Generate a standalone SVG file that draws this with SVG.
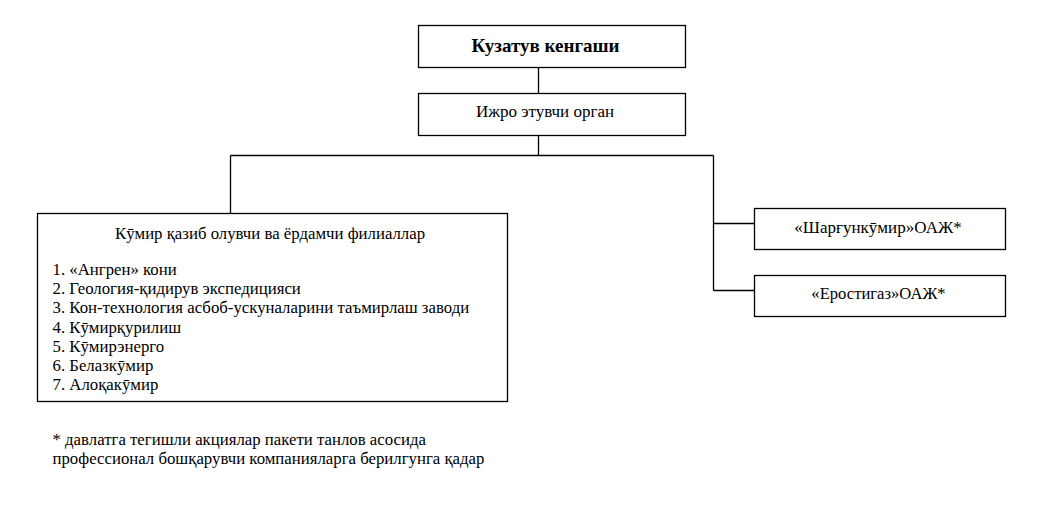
<svg xmlns="http://www.w3.org/2000/svg" width="1041" height="520" viewBox="0 0 1041 520">
<rect width="1041" height="520" fill="#fff"/>
<g id="connectors" fill="none" stroke="#000" stroke-width="1.3">
<path d="M538.5 67V93M538.5 135V155.5M230.5 155.5H713.5M230.5 155.5V213M713.5 155.5V290.5M713.5 223.5H754M713.5 290.5H754"/>
</g>
<g id="kuzatuv">
<rect fill="#fff" stroke="#000" stroke-width="1.3" x="418.5" y="25.5" width="267" height="42"/>
<text font-family="Liberation Serif" font-size="19" font-weight="bold" text-anchor="middle" x="545.5" y="51.5">Кузатув кенгаши</text>
</g>
<g id="ijro">
<rect fill="#fff" stroke="#000" stroke-width="1.3" x="418.5" y="93.5" width="267" height="42"/>
<text font-family="Liberation Serif" font-size="17" text-anchor="middle" x="545" y="116.5">Ижро этувчи орган</text>
</g>
<g id="filiallar">
<rect fill="#fff" stroke="#000" stroke-width="1.3" x="37.5" y="213.5" width="470" height="188"/>
<text font-family="Liberation Serif" font-size="16.8" text-anchor="middle" x="270" y="239">Кӯмир қазиб олувчи ва ёрдамчи филиаллар</text>
<text font-family="Liberation Serif" font-size="16.8" x="52.5" y="275">1. «Ангрен» кони</text>
<text font-family="Liberation Serif" font-size="16.8" x="52.5" y="294">2. Геология-қидирув экспедицияси</text>
<text font-family="Liberation Serif" font-size="16.8" x="52.5" y="313">3. Кон-технология асбоб-ускуналарини таъмирлаш заводи</text>
<text font-family="Liberation Serif" font-size="16.8" x="52.5" y="332.5">4. Кӯмирқурилиш</text>
<text font-family="Liberation Serif" font-size="16.8" x="52.5" y="352">5. Кӯмирэнерго</text>
<text font-family="Liberation Serif" font-size="16.8" x="52.5" y="371">6. Белазкӯмир</text>
<text font-family="Liberation Serif" font-size="16.8" x="52.5" y="390">7. Алоқакӯмир</text>
</g>
<g id="shargun">
<rect fill="#fff" stroke="#000" stroke-width="1.3" x="754.5" y="208.5" width="251" height="41"/>
<text font-family="Liberation Serif" font-size="17" text-anchor="middle" x="878" y="233">«Шарғункӯмир»ОАЖ*</text>
</g>
<g id="yerostigaz">
<rect fill="#fff" stroke="#000" stroke-width="1.3" x="754.5" y="275.5" width="251" height="41"/>
<text font-family="Liberation Serif" font-size="16.6" text-anchor="middle" x="878.5" y="299">«Еростигаз»ОАЖ*</text>
</g>
<g id="footnote">
<text font-family="Liberation Serif" font-size="16.8" x="52.5" y="445">* давлатга тегишли акциялар пакети танлов асосида</text>
<text font-family="Liberation Serif" font-size="16.8" x="52.5" y="464">профессионал бошқарувчи компанияларга берилгунга қадар</text>
</g>
</svg>
